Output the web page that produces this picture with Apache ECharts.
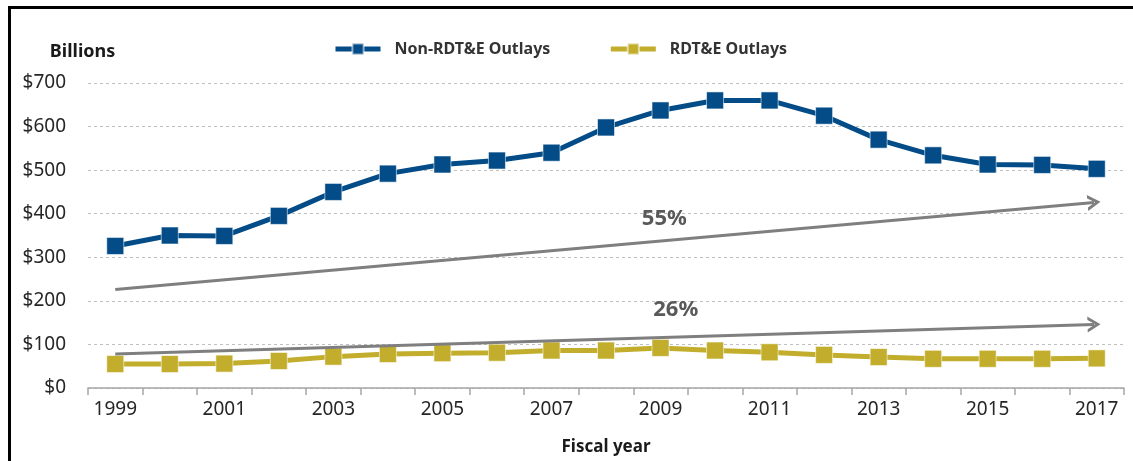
<!DOCTYPE html>
<html>
<head>
<meta charset="utf-8">
<script src="https://cdn.jsdelivr.net/npm/echarts@6/dist/echarts.min.js"></script>
<style>
  html, body { margin: 0; padding: 0; background: #fff; overflow: hidden; width: 1133px; height: 461px; }
  #chart { position: absolute; left: 0; top: 0; width: 1133px; height: 461px; }
  #frame { position: absolute; left: 8px; top: 6px; width: 1300px; height: 600px;
           border-left: 3px solid #000; border-top: 3px solid #000; pointer-events: none; }
</style>
</head>
<body>
<div id="chart"></div>
<div id="frame"></div>
<script>
// ---- data ----
const years = ['1999','2000','2001','2002','2003','2004','2005','2006','2007','2008',
               '2009','2010','2011','2012','2013','2014','2015','2016','2017'];
const nonRdteOutlays = [326, 350, 349, 395, 450, 492, 513, 522, 540, 598,
                        637, 660, 660, 625, 570, 534, 513, 512, 503];
const rdteOutlays = [55, 55, 56, 62, 72, 78, 80, 81, 86, 86,
                     92, 86, 82, 76, 71, 67, 67, 67, 68];
const yTicks = [0, 100, 200, 300, 400, 500, 600, 700];
// growth arrows (x = year index, y = billions)
const arrowNonRdte = [[0, 226], [17.95, 426]];
const arrowRdte = [[0, 78], [17.95, 146]];
const pctLabels = [
  { text: '55%', x: 10.07, y: 388 },
  { text: '26%', x: 10.28, y: 180 }
];

const BLUE = '#034C87';
const GOLD = '#C2AE2C';
const GRAY = '#7F7F7F';
const FONT = 'Noto Sans';
const chevron = 'path://M0,13 L8,0 L16,13 L12.6,13 L8,5.4 L3.4,13 Z';

const chart = echarts.init(document.getElementById('chart'));

function arrowSeries(pts, lbl) {
  return {
    type: 'line',
    xAxisIndex: 1,
    data: [],
    markLine: {
      symbol: ['none', chevron],
      symbolSize: [16, 13],
      lineStyle: { color: GRAY, width: 3, type: 'solid' },
      label: { show: false },
      emphasis: { disabled: true },
      data: [[{ coord: pts[0] }, { coord: pts[1] }]]
    },
    markPoint: {
      symbolSize: 0,
      label: {
        show: true, position: 'inside', formatter: '{b}',
        color: '#595959', fontFamily: FONT, fontWeight: 'bold', fontSize: 22
      },
      data: [{ name: lbl.text, coord: [lbl.x, lbl.y] }]
    }
  };
}

chart.setOption({
  animation: false,
  legend: {
    left: 328, top: 36,
    itemWidth: 45, itemHeight: 14, itemGap: 58,
    lineStyle: { width: 5 },
    data: ['Non-RDT&E Outlays', 'RDT&E Outlays'],
    textStyle: { fontFamily: FONT, fontWeight: 'bold', fontSize: 16, color: '#333', padding: [0, 0, 0, 9] }
  },
  grid: { left: 88, right: 9, top: 83, bottom: 71 },
  xAxis: [{
    type: 'category',
    data: years,
    boundaryGap: true,
    name: 'Fiscal year',
    nameLocation: 'middle',
    nameGap: 51,
    nameTextStyle: { fontFamily: FONT, fontWeight: 'bold', fontSize: 17, color: '#1a1a1a' },
    axisLine: { lineStyle: { color: '#A6A6A6', width: 1.5 } },
    axisTick: { show: true, interval: 0, length: 7, lineStyle: { color: '#A6A6A6', width: 1.5 } },
    axisLabel: { interval: 1, margin: 12, fontFamily: FONT, fontSize: 19, color: '#262626' },
    splitLine: { show: false }
  }, {
    type: 'value', min: -0.5, max: 18.5, show: false
  }],
  yAxis: {
    type: 'value',
    min: yTicks[0], max: yTicks[yTicks.length - 1], interval: 100,
    name: 'Billions',
    nameLocation: 'end',
    nameGap: 22,
    nameTextStyle: { fontFamily: FONT, fontWeight: 'bold', fontSize: 18, color: '#1a1a1a', align: 'right' },
    axisLine: { show: false },
    axisTick: { show: false },
    axisLabel: { margin: 22, fontFamily: FONT, fontSize: 19, color: '#262626', formatter: v => '$' + v },
    splitLine: { lineStyle: { color: '#BFBFBF', type: [3, 3], width: 1 } }
  },
  series: [{
    name: 'Non-RDT&E Outlays',
    type: 'line',
    data: nonRdteOutlays,
    symbol: 'rect', symbolSize: 17,
    lineStyle: { color: BLUE, width: 5 },
    itemStyle: { color: BLUE, borderColor: 'rgba(255,255,255,0.55)', borderWidth: 1 },
    z: 5
  }, {
    name: 'RDT&E Outlays',
    type: 'line',
    data: rdteOutlays,
    symbol: 'rect', symbolSize: 17,
    lineStyle: { color: GOLD, width: 5 },
    itemStyle: { color: GOLD, borderColor: 'rgba(255,255,255,0.55)', borderWidth: 1 },
    z: 3
  },
  arrowSeries(arrowNonRdte, pctLabels[0]),
  arrowSeries(arrowRdte, pctLabels[1])
  ]
});
</script>
</body>
</html>
